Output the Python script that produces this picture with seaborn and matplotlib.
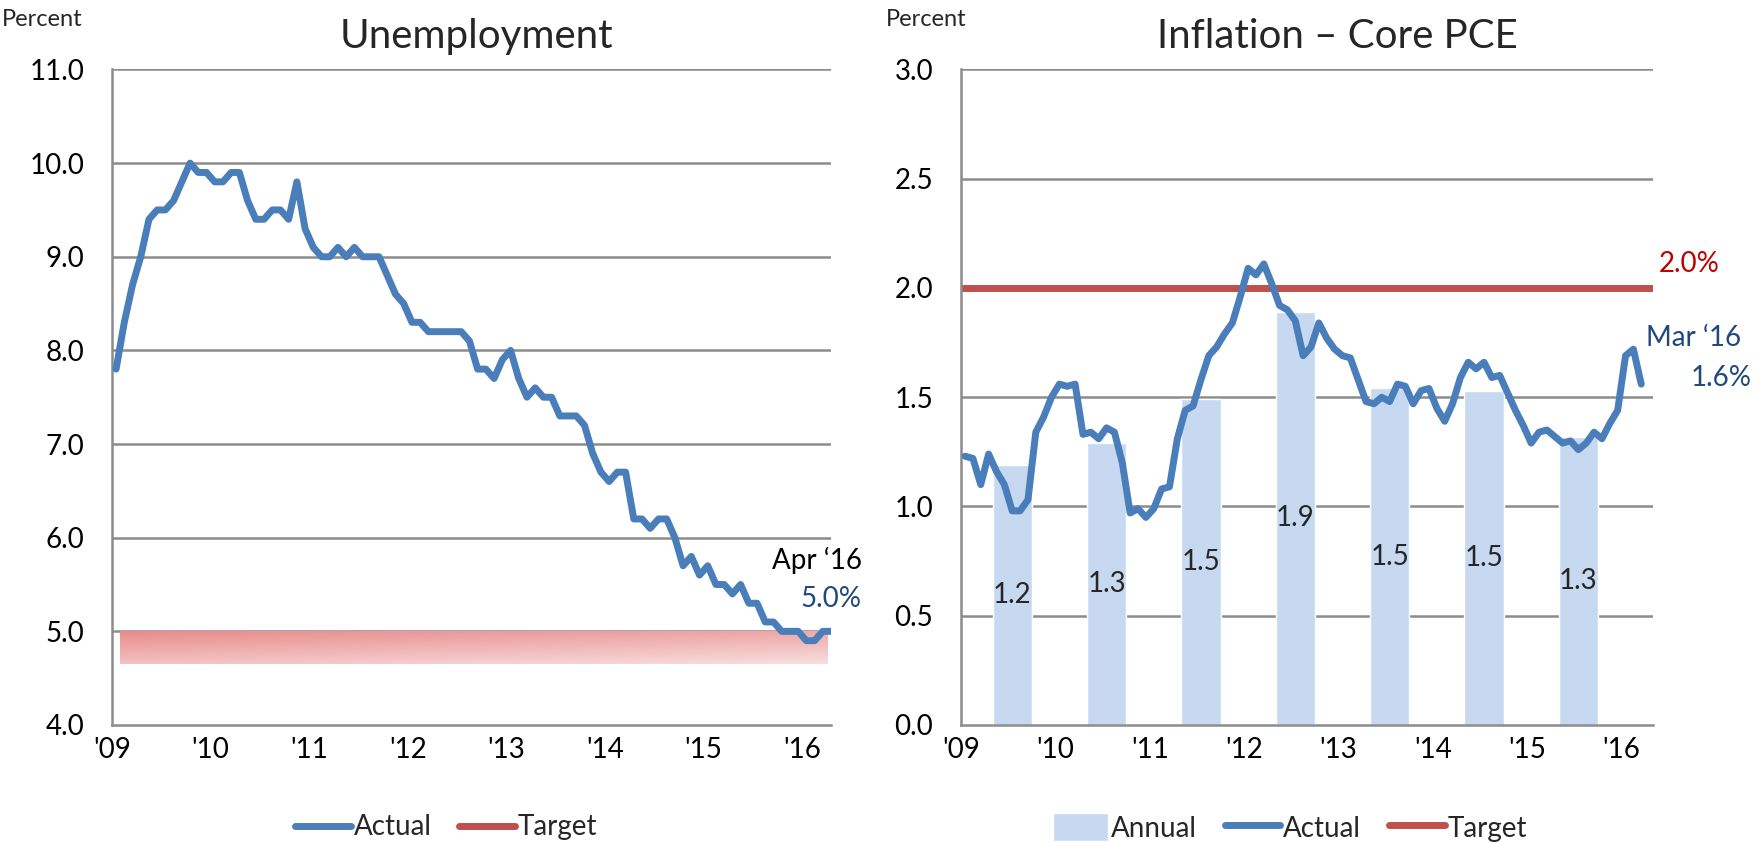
import numpy as np
import pandas as pd
import matplotlib
matplotlib.use("Agg")
import matplotlib.pyplot as plt
from matplotlib.lines import Line2D
from matplotlib.patches import Patch
import seaborn as sns

# Unemployment rate, monthly Jan 2009 - Apr 2016 (percent)
unemployment = [
    7.8, 8.3, 8.7, 9.0, 9.4, 9.5, 9.5, 9.6, 9.8, 10.0, 9.9, 9.9,
    9.8, 9.8, 9.9, 9.9, 9.6, 9.4, 9.4, 9.5, 9.5, 9.4, 9.8, 9.3,
    9.1, 9.0, 9.0, 9.1, 9.0, 9.1, 9.0, 9.0, 9.0, 8.8, 8.6, 8.5,
    8.3, 8.3, 8.2, 8.2, 8.2, 8.2, 8.2, 8.1, 7.8, 7.8, 7.7, 7.9,
    8.0, 7.7, 7.5, 7.6, 7.5, 7.5, 7.3, 7.3, 7.3, 7.2, 6.9, 6.7,
    6.6, 6.7, 6.7, 6.2, 6.2, 6.1, 6.2, 6.2, 6.0, 5.7, 5.8, 5.6,
    5.7, 5.5, 5.5, 5.4, 5.5, 5.3, 5.3, 5.1, 5.1, 5.0, 5.0, 5.0,
    4.9, 4.9, 5.0, 5.0,
]

# Core PCE inflation, monthly Jan 2009 - Mar 2016 (percent, y/y)
core_pce = [
    1.23, 1.22, 1.10, 1.24, 1.16, 1.10, 0.98, 0.98, 1.03, 1.34, 1.41, 1.50,
    1.56, 1.55, 1.56, 1.33, 1.34, 1.31, 1.36, 1.34, 1.20, 0.97, 0.99, 0.95,
    0.99, 1.08, 1.09, 1.31, 1.44, 1.46, 1.58, 1.69, 1.73, 1.79, 1.84, 1.96,
    2.09, 2.06, 2.11, 2.02, 1.92, 1.90, 1.85, 1.69, 1.73, 1.84, 1.77, 1.72,
    1.69, 1.68, 1.58, 1.48, 1.47, 1.50, 1.48, 1.56, 1.55, 1.47, 1.53, 1.54,
    1.45, 1.39, 1.47, 1.59, 1.66, 1.63, 1.66, 1.59, 1.60, 1.52, 1.44, 1.37,
    1.29, 1.34, 1.35, 1.32, 1.29, 1.30, 1.26, 1.29, 1.34, 1.31, 1.38, 1.44,
    1.69, 1.72, 1.56,
]

# Annual averages of core PCE
years = [2009, 2010, 2011, 2012, 2013, 2014, 2015]
annual_pce = [1.19, 1.29, 1.49, 1.89, 1.54, 1.53, 1.32]

year_labels = ["'09", "'10", "'11", "'12", "'13", "'14", "'15", "'16"]
unemp_target = (4.65, 5.0)
inflation_target = 2.0

BLUE = "#4a7ebb"
RED = "#c0504d"
BAR = "#c6d9f1"
GRID = "#8c8c8c"
NAVY = "#1f497d"
LW = 5

sns.set_style("white")
plt.rcParams["font.family"] = ["Lato", "DejaVu Sans"]

fig = plt.figure(figsize=(17.58, 8.43), dpi=100)
ax1 = fig.add_axes([0.0637, 0.140, 0.409, 0.7776])
ax2 = fig.add_axes([0.5467, 0.140, 0.3936, 0.7776])

unemp_df = pd.DataFrame({"month": np.arange(len(unemployment)) + 0.5,
                         "rate": unemployment})
pce_df = pd.DataFrame({"month": np.arange(len(core_pce)) + 0.5,
                       "rate": core_pce})
bar_df = pd.DataFrame({"pos": (np.array(years) - 2009) * 12 + 6.5,
                       "rate": annual_pce})


def style_axis(ax, yticks, xmax):
    ax.set_xlim(0, xmax)
    ax.set_ylim(yticks[0], yticks[-1])
    ax.set_yticks(yticks)
    ax.set_yticklabels([f"{t:.1f}" for t in yticks], fontsize=20)
    ax.set_xticks(np.arange(0, 85, 12))
    ax.set_xticklabels(year_labels, fontsize=20)
    for t in yticks[1:]:
        ax.axhline(t, color=GRID, lw=1.8, zorder=0)
    for s in ["top", "right"]:
        ax.spines[s].set_visible(False)
    for s in ["left", "bottom"]:
        ax.spines[s].set_color(GRID)
        ax.spines[s].set_linewidth(1.8)
    ax.tick_params(axis="both", which="both", direction="out", color=GRID,
                   width=1.5, length=7, colors="black")
    ax.tick_params(axis="y", pad=13)
    ax.tick_params(axis="x", pad=2)
    ax.set_xlabel("")
    ax.set_ylabel("")


# ---- Unemployment ----
grad = np.zeros((60, 200, 3))
rr = np.linspace(0, 1, 60)[:, None]
cc = np.linspace(0, 1, 200)[None, :]
t = 0.65 * rr + 0.35 * cc
top = np.array([233, 140, 140]) / 255
bot = np.array([248, 222, 222]) / 255
for k in range(3):
    grad[:, :, k] = top[k] + (bot[k] - top[k]) * t
ax1.imshow(grad, extent=[1.0, 87.1, unemp_target[0], unemp_target[1]],
           aspect="auto", origin="upper", zorder=1)

sns.lineplot(data=unemp_df, x="month", y="rate", ax=ax1, color=BLUE, lw=LW,
             solid_capstyle="round", solid_joinstyle="round", zorder=3,
             legend=False)
style_axis(ax1, np.arange(4.0, 11.01, 1.0), 87.5)

ax1.text(85.8, 5.76, "Apr \u201816", fontsize=20, ha="center", va="center",
         color="black", clip_on=False)
ax1.text(87.5, 5.34, "5.0%", fontsize=20, ha="center", va="center",
         color=NAVY, clip_on=False)
fig.text(0.271, 0.957, "Unemployment", fontsize=29, ha="center", va="center")
fig.text(0.001, 0.977, "Percent", fontsize=17, ha="left", va="center")

ax1.legend(handles=[Line2D([], [], color=BLUE, lw=LW, solid_capstyle="round"),
                    Line2D([], [], color=RED, lw=LW, solid_capstyle="round")],
           labels=["Actual", "Target"], loc="center", ncol=2, frameon=False,
           bbox_to_anchor=(0.465, -0.156), fontsize=20, handlelength=2.0,
           handletextpad=0.1, columnspacing=1.0)

# ---- Inflation ----
sns.barplot(data=bar_df, x="pos", y="rate", ax=ax2, native_scale=True,
            width=5 / 12, color=BAR, saturation=1, zorder=1)
for p, v in zip(bar_df["pos"], bar_df["rate"]):
    ax2.text(p, v / 2, f"{v:.1f}", fontsize=20, ha="center", va="center",
             zorder=5)
ax2.axhline(inflation_target, color=RED, lw=LW, zorder=2,
            solid_capstyle="round")
sns.lineplot(data=pce_df, x="month", y="rate", ax=ax2, color=BLUE, lw=LW,
             solid_capstyle="round", solid_joinstyle="round", zorder=3,
             legend=False)
style_axis(ax2, np.arange(0.0, 3.01, 0.5), 88)

ax2.text(92.6, 2.11, f"{inflation_target:.1f}%", fontsize=20, ha="center",
         va="center", color="#c00000", clip_on=False)
ax2.text(93.2, 1.77, "Mar \u201816", fontsize=20, ha="center", va="center",
         color=NAVY, clip_on=False)
ax2.text(96.7, 1.59, "1.6%", fontsize=20, ha="center", va="center",
         color=NAVY, clip_on=False)
fig.text(0.761, 0.957, "Inflation \u2013 Core PCE", fontsize=29,
         ha="center", va="center")
fig.text(0.504, 0.977, "Percent", fontsize=17, ha="left", va="center")

ax2.legend(handles=[Patch(facecolor=BAR),
                    Line2D([], [], color=BLUE, lw=LW, solid_capstyle="round"),
                    Line2D([], [], color=RED, lw=LW, solid_capstyle="round")],
           labels=["Annual", "Actual", "Target"], loc="center", ncol=3,
           frameon=False, bbox_to_anchor=(0.475, -0.156), fontsize=20,
           handlelength=2.0, handleheight=1.2, handletextpad=0.1,
           columnspacing=1.0)

fig.savefig("out.png", dpi=100)
